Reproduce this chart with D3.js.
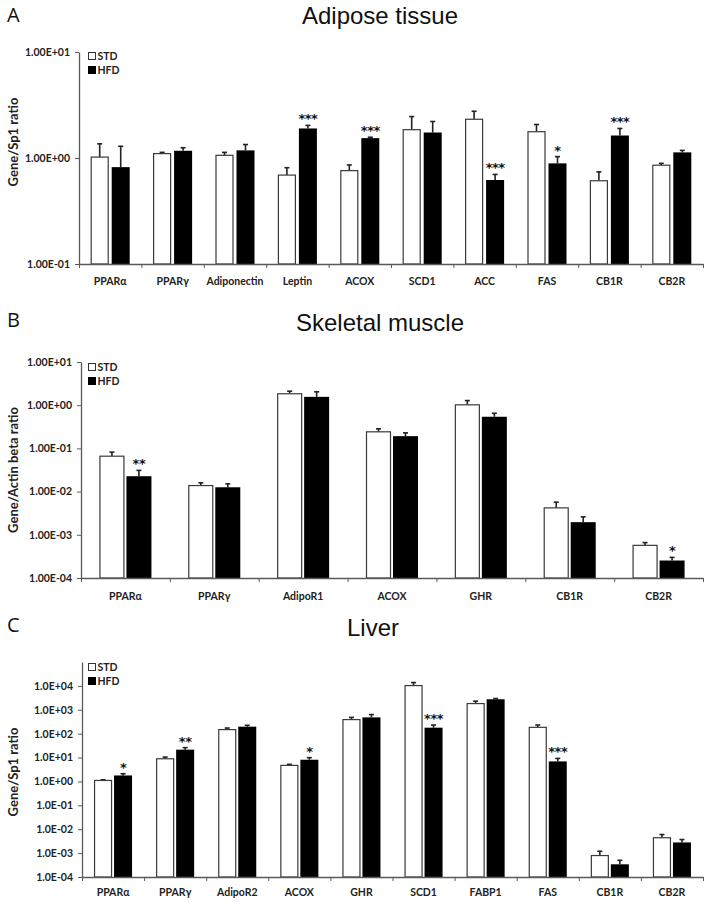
<!DOCTYPE html>
<html>
<head>
<meta charset="utf-8">
<script src="https://cdn.jsdelivr.net/npm/d3@7/dist/d3.min.js"></script>
<style>
  body { margin: 0; background: #fff; }
  svg { display: block; }
  .tick text { font-family: Lato, "Open Sans", sans-serif; font-weight: bold; fill: #222; }
</style>
</head>
<body>
<script>
// ---------------- DATA ----------------
// Panel A: Adipose tissue
const adiposeCategories = ["PPARα", "PPARγ", "Adiponectin", "Leptin", "ACOX", "SCD1", "ACC", "FAS", "CB1R", "CB2R"];
const adiposeSTD        = [1.02, 1.10, 1.06, 0.69, 0.76, 1.85, 2.32, 1.77, 0.61, 0.855];
const adiposeSTDErrTop  = [1.36, 1.13, 1.13, 0.81, 0.86, 2.46, 2.76, 2.07, 0.74, 0.89];
const adiposeHFD        = [0.82, 1.17, 1.18, 1.90, 1.54, 1.74, 0.62, 0.89, 1.63, 1.13];
const adiposeHFDErrTop  = [1.29, 1.25, 1.34, 2.03, 1.57, 2.21, 0.70, 1.03, 1.90, 1.18];
const adiposeStars      = ["", "", "", "***", "***", "", "***", "*", "***", ""];
const adiposeTickValues = [0.1, 1, 10];
const adiposeTickLabels = ["1.00E-01", "1.00E+00", "1.00E+01"];

// Panel B: Skeletal muscle
const muscleCategories = ["PPARα", "PPARγ", "AdipoR1", "ACOX", "GHR", "CB1R", "CB2R"];
const muscleSTD        = [0.066, 0.0138, 1.84, 0.242, 1.02, 0.0042, 0.00057];
const muscleSTDErrTop  = [0.082, 0.016, 2.11, 0.284, 1.28, 0.0057, 0.00066];
const muscleHFD        = [0.0227, 0.0126, 1.56, 0.192, 0.54, 0.00196, 0.000254];
const muscleHFDErrTop  = [0.031, 0.0151, 2.04, 0.229, 0.65, 0.0026, 0.0003];
const muscleStars      = ["**", "", "", "", "", "", "*"];
const muscleTickValues = [1e-4, 1e-3, 1e-2, 1e-1, 1, 10];
const muscleTickLabels = ["1.00E-04", "1.00E-03", "1.00E-02", "1.00E-01", "1.00E+00", "1.00E+01"];

// Panel C: Liver
const liverCategories = ["PPARα", "PPARγ", "AdipoR2", "ACOX", "GHR", "SCD1", "FABP1", "FAS", "CB1R", "CB2R"];
const liverSTD        = [1.1, 8.9, 148, 4.7, 388, 10300, 1820, 184, 0.00079, 0.0044];
const liverSTDErrTop  = [1.17, 10.5, 172, 5.2, 480, 13800, 2290, 230, 0.0012, 0.006];
const liverHFD        = [1.78, 21.4, 196, 8.1, 480, 178, 2750, 6.9, 0.00034, 0.0028];
const liverHFDErrTop  = [2.1, 26, 224, 9.9, 630, 230, 2950, 9.2, 0.0005, 0.0037];
const liverStars      = ["*", "**", "", "*", "", "***", "", "***", "", ""];
const liverTickValues = [1e-4, 1e-3, 1e-2, 1e-1, 1, 10, 100, 1e3, 1e4];
const liverTickLabels = ["1.0E-04", "1.0E-03", "1.0E-02", "1.0E-01", "1.0E+00", "1.0E+01", "1.0E+02", "1.0E+03", "1.0E+04"];

const seriesNames = ["STD", "HFD"];

// ---------------- PANEL OPTIONS ----------------
const panels = [
  { letter: "A", title: "Adipose tissue", yLabel: "Gene/Sp1 ratio",
    cats: adiposeCategories, std: adiposeSTD, stdTop: adiposeSTDErrTop, hfd: adiposeHFD, hfdTop: adiposeHFDErrTop, stars: adiposeStars,
    tickValues: adiposeTickValues, tickLabels: adiposeTickLabels, domain: [0.1, 10],
    x0: 79, x1: 703, yTop: 52, yBot: 264, barW: 18, gap: 3,
    letterY: 22, titleY: 24, titleX: 380, yLabelY: 142, legendY: 56, xLabelPad: 14 },
  { letter: "B", title: "Skeletal muscle", yLabel: "Gene/Actin beta ratio",
    cats: muscleCategories, std: muscleSTD, stdTop: muscleSTDErrTop, hfd: muscleHFD, hfdTop: muscleHFDErrTop, stars: muscleStars,
    tickValues: muscleTickValues, tickLabels: muscleTickLabels, domain: [1e-4, 10],
    x0: 81, x1: 703, yTop: 362, yBot: 578, barW: 25, gap: 2,
    letterY: 327, titleY: 331, titleX: 380, yLabelY: 470, legendY: 367, xLabelPad: 15 },
  { letter: "C", title: "Liver", yLabel: "Gene/Sp1 ratio",
    cats: liverCategories, std: liverSTD, stdTop: liverSTDErrTop, hfd: liverHFD, hfdTop: liverHFDErrTop, stars: liverStars,
    tickValues: liverTickValues, tickLabels: liverTickLabels, domain: [1e-4, 1e5],
    x0: 82, x1: 703, yTop: 662, yBot: 877, barW: 18, gap: 2,
    letterY: 632, titleY: 636, titleX: 373, yLabelY: 772, legendY: 667, xLabelPad: 12 }
];

// ---------------- DRAW ----------------
const svg = d3.select("body").append("svg").attr("width", 709).attr("height", 904);
svg.append("rect").attr("width", 709).attr("height", 904).attr("fill", "#fff");

const axisColor = "#5a5a5a";

panels.forEach(p => {
  const g = svg.append("g");
  const x = d3.scaleBand().domain(p.cats).range([p.x0, p.x1]).paddingInner(0).paddingOuter(0);
  const xIdx = d3.scaleLinear().domain([0, p.cats.length]).range([p.x0, p.x1]);
  const y = d3.scaleLog().domain(p.domain).range([p.yBot, p.yTop]);

  // Panel letter & title
  g.append("text").attr("x", 7).attr("y", p.letterY)
    .attr("font-family", "'Open Sans', Lato, sans-serif").attr("font-size", 20).attr("fill", "#111")
    .text(p.letter);
  g.append("text").attr("x", p.titleX).attr("y", p.titleY).attr("text-anchor", "middle")
    .attr("font-family", "'Liberation Sans', Arial, sans-serif").attr("font-size", 24).attr("fill", "#111")
    .text(p.title);

  // Y axis title
  g.append("text").attr("transform", `translate(18,${p.yLabelY}) rotate(-90)`)
    .attr("text-anchor", "middle")
    .attr("font-family", "Lato, 'Open Sans', sans-serif").attr("font-weight", "bold").attr("font-size", 13).attr("fill", "#222")
    .text(p.yLabel);

  // Bars
  const stdX = c => x(c) + x.bandwidth() / 2 - p.gap / 2 - p.barW;
  const hfdX = c => x(c) + x.bandwidth() / 2 + p.gap / 2;

  // error bars (upper only)
  const errs = [];
  p.cats.forEach((c, i) => {
    errs.push({ cx: stdX(c) + p.barW / 2, v: p.std[i], top: p.stdTop[i] });
    errs.push({ cx: hfdX(c) + p.barW / 2, v: p.hfd[i], top: p.hfdTop[i] });
  });
  g.selectAll(".errline").data(errs).join("line")
    .attr("x1", d => d.cx).attr("x2", d => d.cx)
    .attr("y1", d => y(d.v)).attr("y2", d => y(d.top))
    .attr("stroke", "#222").attr("stroke-width", 1.6);
  g.selectAll(".errcap").data(errs).join("line")
    .attr("x1", d => d.cx - 2.5).attr("x2", d => d.cx + 2.5)
    .attr("y1", d => y(d.top)).attr("y2", d => y(d.top))
    .attr("stroke", "#222").attr("stroke-width", 1.6);

  g.selectAll(".stdbar").data(p.cats).join("rect")
    .attr("x", c => stdX(c) + 0.5).attr("width", p.barW - 1)
    .attr("y", (c, i) => y(p.std[i])).attr("height", (c, i) => p.yBot - y(p.std[i]))
    .attr("fill", "#fff").attr("stroke", "#3a3a3a").attr("stroke-width", 1.2);
  g.selectAll(".hfdbar").data(p.cats).join("rect")
    .attr("x", c => hfdX(c)).attr("width", p.barW)
    .attr("y", (c, i) => y(p.hfd[i])).attr("height", (c, i) => p.yBot - y(p.hfd[i]))
    .attr("fill", "#000");

  // Stars
  g.selectAll(".star").data(p.cats).join("text")
    .attr("x", c => hfdX(c) + p.barW / 2)
    .attr("y", (c, i) => y(p.hfdTop[i]) - 2)
    .attr("text-anchor", "middle")
    .attr("font-family", "'DejaVu Sans', sans-serif").attr("font-weight", "bold").attr("font-size", 13)
    .attr("letter-spacing", -0.5).attr("fill", "#111")
    .text((c, i) => p.stars[i]);

  // Y axis
  const yAxis = d3.axisLeft(y).tickValues(p.tickValues).tickFormat((d, i) => p.tickLabels[i])
    .tickSize(4).tickSizeOuter(0).tickPadding(5);
  const ya = g.append("g").attr("transform", `translate(${p.x0},0)`).call(yAxis);
  ya.select(".domain").attr("stroke", axisColor).attr("stroke-width", 1.3);
  ya.selectAll(".tick line").attr("stroke", axisColor);
  ya.selectAll(".tick text").attr("font-size", 10.5);

  // X axis: boundary ticks
  const xTicks = d3.axisBottom(xIdx).tickValues(d3.range(p.cats.length + 1)).tickFormat("").tickSize(4).tickSizeOuter(0);
  const xa = g.append("g").attr("transform", `translate(0,${p.yBot})`).call(xTicks);
  xa.select(".domain").attr("stroke", axisColor).attr("stroke-width", 1.3);
  xa.selectAll(".tick line").attr("stroke", axisColor);

  // X axis: category labels
  const xLab = d3.axisBottom(x).tickSize(0).tickPadding(p.xLabelPad);
  const xl = g.append("g").attr("transform", `translate(0,${p.yBot})`).call(xLab);
  xl.select(".domain").remove();
  xl.selectAll(".tick text").attr("font-size", 10.5);

  // Legend
  const lg = g.append("g").attr("transform", `translate(88.5,${p.legendY})`);
  seriesNames.forEach((s, i) => {
    lg.append("rect").attr("x", 0).attr("y", i * 14 - 3.5).attr("width", 7).attr("height", 7)
      .attr("fill", s === "STD" ? "#fff" : "#000").attr("stroke", s === "STD" ? "#333" : "#000").attr("stroke-width", 1);
    lg.append("text").attr("x", 9).attr("y", i * 14).attr("dy", "0.35em")
      .attr("font-family", "Lato, 'Open Sans', sans-serif").attr("font-weight", "bold").attr("font-size", 10.5).attr("fill", "#222")
      .text(s);
  });
});
</script>
</body>
</html>
